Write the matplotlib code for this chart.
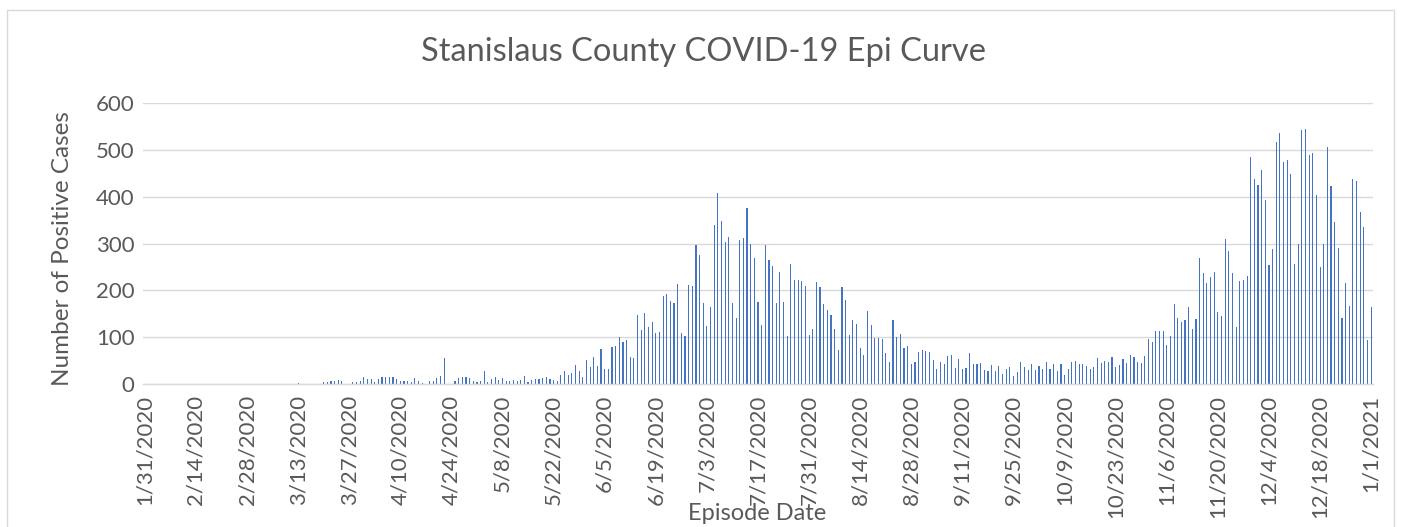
import matplotlib
matplotlib.use('Agg')
import matplotlib.pyplot as plt
import numpy as np
from matplotlib.patches import Rectangle

# Daily positive cases, 1/31/2020 .. 1/1/2021
cases_jan31 = [0]
cases_feb = [0, 0, 0, 0, 0, 0, 0, 0, 0, 0, 0, 0, 0, 0, 0, 0, 0, 0, 0, 0,
             0, 0, 0, 0, 0, 0, 0, 0, 0]
cases_mar = [0, 1, 0, 0, 0, 1, 0, 0, 0, 1, 0, 0, 3, 1, 0, 1, 1, 1, 0, 4,
             4, 6, 7, 9, 6, 0, 0, 4, 4, 6, 14]
cases_apr = [11, 11, 4, 11, 14, 15, 16, 15, 11, 6, 6, 6, 4, 13, 6, 2, 0, 6, 6, 12,
             18, 56, 1, 1, 6, 13, 15, 15, 12, 6]
cases_may = [4, 6, 27, 4, 11, 15, 9, 13, 6, 6, 9, 6, 9, 18, 4, 9, 11, 11, 13, 15,
             11, 9, 6, 19, 28, 19, 23, 40, 28, 15, 51]
cases_jun = [36, 58, 38, 75, 32, 32, 78, 81, 100, 90, 93, 57, 55, 148, 115, 151, 122, 132, 109, 112,
             188, 193, 178, 173, 214, 109, 102, 211, 210, 296]
cases_jul = [275, 172, 124, 164, 340, 407, 347, 303, 314, 172, 140, 307, 311, 376, 300, 270, 176, 125, 296, 265,
             253, 173, 240, 175, 102, 256, 223, 221, 220, 210, 105]
cases_aug = [117, 218, 207, 170, 158, 148, 117, 73, 208, 180, 105, 137, 128, 77, 62, 155, 126, 99, 99, 97,
             66, 47, 136, 101, 107, 77, 81, 43, 47, 68, 73]
cases_sep = [70, 68, 51, 33, 46, 43, 60, 62, 34, 53, 32, 34, 66, 43, 43, 45, 30, 28, 40, 28,
             38, 21, 32, 36, 18, 25, 47, 36, 30, 43]
cases_oct = [30, 38, 32, 47, 32, 43, 28, 43, 19, 32, 47, 49, 43, 43, 38, 32, 36, 56, 44, 49,
             47, 58, 36, 40, 53, 45, 62, 58, 47, 45, 60]
cases_nov = [96, 90, 114, 114, 114, 83, 102, 170, 140, 132, 137, 164, 118, 139, 268, 238, 215, 229, 240, 153,
             145, 309, 283, 238, 122, 220, 223, 231, 485, 438]
cases_dec = [425, 456, 393, 254, 289, 517, 537, 474, 479, 448, 256, 298, 543, 544, 489, 494, 403, 250, 300, 506,
             422, 345, 290, 140, 215, 167, 437, 434, 367, 335, 93]
cases_jan21 = [164]

tick_labels = ['1/31/2020', '2/14/2020', '2/28/2020', '3/13/2020', '3/27/2020', '4/10/2020',
               '4/24/2020', '5/8/2020', '5/22/2020', '6/5/2020', '6/19/2020', '7/3/2020',
               '7/17/2020', '7/31/2020', '8/14/2020', '8/28/2020', '9/11/2020', '9/25/2020',
               '10/9/2020', '10/23/2020', '11/6/2020', '11/20/2020', '12/4/2020', '12/18/2020',
               '1/1/2021']

title = 'Stanislaus County COVID-19 Epi Curve'
y_title = 'Number of Positive Cases'
x_title = 'Episode Date'

cases = (cases_jan31 + cases_feb + cases_mar + cases_apr + cases_may + cases_jun + cases_jul
         + cases_aug + cases_sep + cases_oct + cases_nov + cases_dec + cases_jan21)

plt.rcParams['font.family'] = ['Lato', 'DejaVu Sans']
text_color = '#595959'
grid_color = '#D9D9D9'

W, H = 1401, 527
fig = plt.figure(figsize=(W / 100, H / 100), dpi=100)
ax = fig.add_axes([143 / W, 143 / H, 1230 / W, 281 / H])

x = np.arange(len(cases))
ax.bar(x, cases, width=0.31, color='#4472C4', linewidth=0)
ax.set_xlim(-0.5, len(cases) - 0.5)
ax.set_ylim(0, 600)
ax.set_yticks(range(0, 601, 100))
ax.yaxis.grid(True, color=grid_color, linewidth=1.0)
ax.set_axisbelow(True)
for s in ['top', 'right', 'left']:
    ax.spines[s].set_visible(False)
ax.spines['bottom'].set_color(grid_color)
ax.spines['bottom'].set_linewidth(1.0)

ax.set_xticks(np.arange(0, len(cases), 14))
ax.set_xticklabels(tick_labels, rotation=90)
ax.tick_params(axis='both', length=0, colors=text_color, labelsize=16)
ax.tick_params(axis='x', pad=8)
ax.tick_params(axis='y', pad=6)

fig.text(703 / W, 1 - 52 / H, title, ha='center', va='center', fontsize=23.5,
         color=text_color)
fig.text(63 / W, 1 - 249 / H, y_title, ha='center', va='center', rotation=90,
         fontsize=17.5, color=text_color)
fig.text(757 / W, 1 - 514 / H, x_title, ha='center', va='center', fontsize=17, color=text_color)

fig.patches.append(Rectangle((7.5 / W, -0.02), (1393.5 - 7.5) / W, (H - 9.5) / H + 0.02,
                             transform=fig.transFigure, fill=False, edgecolor=grid_color,
                             linewidth=1.0))

fig.savefig('out.png', dpi=100)
